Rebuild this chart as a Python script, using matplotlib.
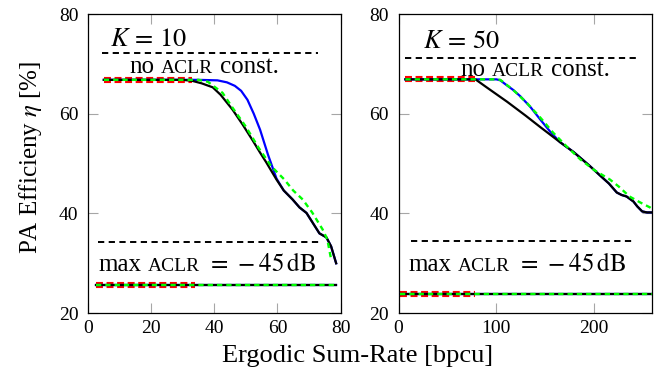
import matplotlib
matplotlib.use('Agg')
import matplotlib.pyplot as plt
from matplotlib.transforms import offset_copy

plt.rcParams['font.family'] = ['Liberation Serif', 'DejaVu Serif']
plt.rcParams['mathtext.fontset'] = 'stix'
plt.rcParams['lines.scale_dashes'] = False

# ---- K = 10 panel ----
k10_black_x = [5, 10, 20, 30, 33, 36, 39.5, 42, 45.8, 49, 52.2, 54.5, 56.5, 58, 59.7, 62, 64.8, 67, 69.2, 71, 73.3, 75.5, 77, 78.6]
k10_black_y = [66.8, 66.8, 66.8, 66.8, 66.6, 66.1, 65.3, 63.8, 60.8, 57.8, 54.6, 52.2, 50.2, 48.6, 46.8, 44.6, 42.8, 41.2, 40.1, 38.3, 36.0, 35.2, 33.4, 30.0]
k10_blue_x = [5, 20, 35, 41, 44, 46.5, 48.5, 50.5, 52.5, 54.5, 57, 59.7, 62, 64.8, 67, 69.2, 71, 73.3, 75.5, 77, 78.6]
k10_blue_y = [66.8, 66.8, 66.8, 66.7, 66.3, 65.6, 64.6, 62.8, 60.0, 56.8, 51.8, 47.0, 44.6, 42.8, 41.2, 40.1, 38.3, 36.0, 35.2, 33.4, 30.0]
k10_green_x = [5, 20, 35, 38, 42.6, 46, 50, 54, 58, 62.2, 65, 68, 71, 74.3, 75.8, 77]
k10_green_y = [66.8, 66.8, 66.8, 66.4, 64.2, 61.0, 57.4, 53.2, 49.5, 46.8, 44.6, 42.8, 40.2, 36.8, 34.8, 30.8]
k10_red_x = [5, 33]
k10_red_y = [66.8, 66.8]
k10_low_red_x = [2.5, 34]
k10_low_x = [2.5, 78.5]
k10_low_y = 25.6
k10_ref_hi = (72.1, 4.5, 73)     # level, start, end
k10_ref_lo = (34.2, 3, 74)

# ---- K = 50 panel ----
k50_black_x = [7, 40, 78.6, 90, 111, 130, 145, 165, 179, 195, 206, 215, 223, 228, 233, 240, 244, 249, 254, 259]
k50_black_y = [66.9, 66.9, 66.9, 65.3, 62.4, 59.6, 57.3, 54.3, 52.3, 49.6, 47.6, 46.0, 44.2, 43.7, 43.4, 42.4, 41.4, 40.4, 40.2, 40.2]
k50_blue_x = [7, 80, 100, 104, 110, 117, 124.5, 135, 145, 155, 165, 179, 195, 206, 215, 223, 228, 233, 240, 244, 249, 254, 259]
k50_blue_y = [66.9, 66.9, 66.9, 66.7, 65.8, 64.8, 63.5, 61.3, 58.8, 56.4, 54.3, 52.3, 49.6, 47.6, 46.0, 44.2, 43.7, 43.4, 42.4, 41.4, 40.4, 40.2, 40.2]
k50_green_x = [7, 90, 100, 104, 117, 131, 145, 158, 172, 186, 200, 216, 225, 236, 247, 257, 259]
k50_green_y = [66.9, 66.9, 66.9, 66.8, 64.8, 62.2, 59.2, 56.2, 53.4, 50.8, 48.7, 46.8, 45.4, 43.4, 42.2, 41.2, 40.9]
k50_red_x = [7, 78.6]
k50_red_y = [66.9, 66.9]
k50_low_red_x = [2, 78.6]
k50_low_x = [2, 259]
k50_low_y = 23.8
k50_ref_hi = (71.1, 7, 243)
k50_ref_lo = (34.5, 13, 240)

y_ticks = [20, 40, 60, 80]
k10_x_ticks = [0, 20, 40, 60, 80]
k50_x_ticks = [0, 100, 200]


def chain_text(fig, ax, x, y, pieces):
    # draw text pieces one after another on a common baseline
    renderer = fig.canvas.get_renderer()
    dx = 0.0
    for s, size, gap in pieces:
        tr = offset_copy(ax.transData, fig=fig, x=dx, y=0, units='dots')
        t = ax.text(x, y, s, fontsize=size, transform=tr, va='baseline', ha='left')
        dx += t.get_window_extent(renderer).width + gap * fig.dpi / 72.0


def panel(fig, ax, d, label, xlim, xticks, txt_pos):
    ax.plot(d['red_x'], d['red_y'], color='red', lw=4.4, dashes=(5.0, 2.6), zorder=2)
    ax.plot(d['low_red_x'], [d['low_y']] * 2, color='red', lw=4.4, dashes=(5.0, 2.6), zorder=2)
    ax.plot(d['blue_x'], d['blue_y'], color='blue', lw=1.6, zorder=3)
    ax.plot(d['low_x'], [d['low_y']] * 2, color='blue', lw=1.6, zorder=3)
    ax.plot(d['black_x'], d['black_y'], color='black', lw=1.6, zorder=4)
    ax.plot(d['low_x'], [d['low_y']] * 2, color='black', lw=1.6, zorder=4)
    ax.plot(d['green_x'], d['green_y'], color='#00ff00', lw=1.7, dashes=(3.8, 2.9), zorder=5)
    ax.plot(d['low_x'], [d['low_y']] * 2, color='#00ff00', lw=1.7, dashes=(3.8, 2.9), zorder=5)

    for lvl, x0, x1 in (d['ref_hi'], d['ref_lo']):
        ax.plot([x0, x1], [lvl, lvl], color='black', lw=1.4, dashes=(4.5, 3.2), zorder=3)

    ax.set_xlim(*xlim)
    ax.set_ylim(20, 80)
    ax.set_xticks(xticks)
    ax.set_yticks(y_ticks)
    ax.tick_params(direction='in', length=7.5, width=0.8, color='0.65',
                   top=True, right=True, labelsize=14)
    ax.tick_params(axis='x', pad=5)
    ax.tick_params(axis='y', pad=7)
    for sp in ax.spines.values():
        sp.set_linewidth(0.9)

    kx, ky, nx, ny, mx, my = txt_pos
    ax.text(kx, ky, label, fontsize=19, va='baseline', ha='left')
    chain_text(fig, ax, nx, ny, [('no', 18, 5), ('ACLR', 14, 5), ('const.', 18, 0)])
    chain_text(fig, ax, mx, my, [('max', 18, 5), ('ACLR', 14, 5),
                                 (r'$=\,-45\,\mathrm{dB}$', 18, 0)])


def main():
    fig = plt.figure(figsize=(6.67, 3.8), dpi=100)
    ax1 = fig.add_axes([0.132, 0.176, 0.3786, 0.787])
    ax2 = fig.add_axes([0.5975, 0.176, 0.38, 0.787])

    k10 = dict(black_x=k10_black_x, black_y=k10_black_y, blue_x=k10_blue_x, blue_y=k10_blue_y,
               green_x=k10_green_x, green_y=k10_green_y, red_x=k10_red_x, red_y=k10_red_y,
               low_red_x=k10_low_red_x, low_x=k10_low_x, low_y=k10_low_y,
               ref_hi=k10_ref_hi, ref_lo=k10_ref_lo)
    k50 = dict(black_x=k50_black_x, black_y=k50_black_y, blue_x=k50_blue_x, blue_y=k50_blue_y,
               green_x=k50_green_x, green_y=k50_green_y, red_x=k50_red_x, red_y=k50_red_y,
               low_red_x=k50_low_red_x, low_x=k50_low_x, low_y=k50_low_y,
               ref_hi=k50_ref_hi, ref_lo=k50_ref_lo)

    panel(fig, ax1, k10, r'$K\,=\,10$', (0, 80), k10_x_ticks, (7, 73.5, 13, 68.1, 3.2, 28.5))
    panel(fig, ax2, k50, r'$K\,=\,50$', (0, 259), k50_x_ticks, (24.5, 73.1, 63, 67.6, 10, 28.5))

    fig.text(0.536, 0.063, 'Ergodic Sum-Rate [bpcu]', fontsize=19, ha='center', va='center')
    fig.text(0.045, 0.587, r'PA Efficieny $\eta$ [%]', fontsize=18, ha='center', va='center',
             rotation=90)

    fig.savefig('out.png', dpi=100)


if __name__ == "__main__":
    main()
